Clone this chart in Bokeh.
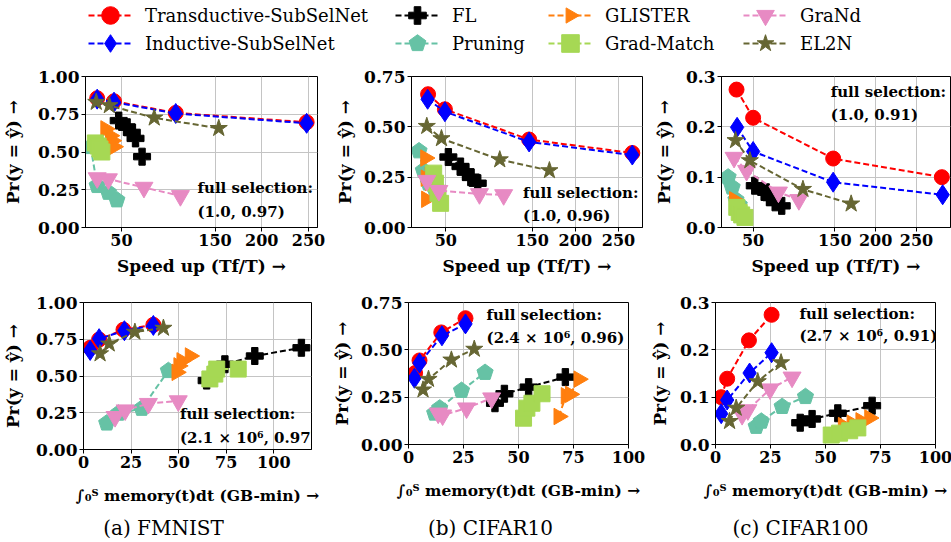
import math
from bokeh.plotting import figure
from bokeh.layouts import column, row
from bokeh.models import Range1d, FixedTicker, PrintfTickFormatter, Label, Legend, LegendItem
from bokeh.embed import file_html
from bokeh.resources import INLINE

METHODS = ["Transductive-SubSelNet", "Inductive-SubSelNet", "FL", "Pruning",
           "GLISTER", "Grad-Match", "GraNd", "EL2N"]

# ---------------- FMNIST : speed-up vs accuracy ----------------
FMNIST_SPEEDUP_X = {
    "Transductive-SubSelNet": [24, 42, 108, 248],
    "Inductive-SubSelNet": [24, 42, 108, 248],
    "FL": [47, 56, 61, 65, 72],
    "Pruning": [17, 24, 36, 45],
    "GLISTER": [33, 38, 40, 42],
    "Grad-Match": [22, 25, 27, 29],
    "GraNd": [24, 36, 74, 113],
    "EL2N": [23, 37, 85, 154],
}
FMNIST_SPEEDUP_Y = {
    "Transductive-SubSelNet": [0.856, 0.836, 0.759, 0.697],
    "Inductive-SubSelNet": [0.85, 0.83, 0.755, 0.69],
    "FL": [0.708, 0.664, 0.63, 0.59, 0.469],
    "Pruning": [0.535, 0.277, 0.232, 0.182],
    "GLISTER": [0.653, 0.608, 0.575, 0.535],
    "Grad-Match": [0.56, 0.54, 0.52, 0.50],
    "GraNd": [0.328, 0.321, 0.265, 0.21],
    "EL2N": [0.83, 0.808, 0.726, 0.657],
}
# ---------------- CIFAR10 : speed-up vs accuracy ----------------
CIFAR10_SPEEDUP_X = {
    "Transductive-SubSelNet": [29.5, 49, 146.5, 266],
    "Inductive-SubSelNet": [29, 49, 146.5, 266],
    "FL": [53, 67, 73, 79, 87],
    "Pruning": [19, 24, 30, 38],
    "GLISTER": [26.5, 27, 27.5],
    "Grad-Match": [36, 38, 41, 44],
    "GraNd": [28, 42, 89, 117],
    "EL2N": [28, 45, 112.5, 170],
}
CIFAR10_SPEEDUP_Y = {
    "Transductive-SubSelNet": [0.662, 0.587, 0.437, 0.37],
    "Inductive-SubSelNet": [0.637, 0.575, 0.425, 0.36],
    "FL": [0.35, 0.303, 0.275, 0.25, 0.22],
    "Pruning": [0.38, 0.283, 0.22, 0.18],
    "GLISTER": [0.345, 0.245, 0.14],
    "Grad-Match": [0.27, 0.22, 0.17, 0.12],
    "GraNd": [0.233, 0.183, 0.167, 0.162],
    "EL2N": [0.503, 0.442, 0.337, 0.283],
}
# ---------------- CIFAR100 : speed-up vs accuracy ----------------
CIFAR100_SPEEDUP_X = {
    "Transductive-SubSelNet": [29.7, 50, 148, 281],
    "Inductive-SubSelNet": [30.4, 50, 148, 282],
    "FL": [52, 66, 70, 77, 85],
    "Pruning": [19.4, 24.3, 29, 33],
    "GLISTER": [27, 30, 33],
    "Grad-Match": [30, 33, 36, 40],
    "GraNd": [26.7, 42, 81, 106],
    "EL2N": [28.5, 46, 111, 170],
}
CIFAR100_SPEEDUP_Y = {
    "Transductive-SubSelNet": [0.274, 0.218, 0.137, 0.1],
    "Inductive-SubSelNet": [0.199, 0.151, 0.09, 0.065],
    "FL": [0.083, 0.07, 0.06, 0.05, 0.043],
    "Pruning": [0.1, 0.08, 0.055, 0.045],
    "GLISTER": [0.055, 0.045, 0.035],
    "Grad-Match": [0.04, 0.03, 0.025, 0.02],
    "GraNd": [0.139, 0.113, 0.07, 0.055],
    "EL2N": [0.173, 0.133, 0.076, 0.047],
}
# ---------------- FMNIST : memory vs accuracy ----------------
FMNIST_MEMORY_X = {
    "Transductive-SubSelNet": [3.5, 8.2, 21, 36.7],
    "Inductive-SubSelNet": [3.5, 8.2, 21.5, 36.7],
    "FL": [64.7, 74.3, 90, 114.5],
    "Pruning": [12.2, 18.4, 30.6, 44.6],
    "GLISTER": [49, 50, 51.6, 56],
    "Grad-Match": [66.4, 69, 70, 81.3],
    "GraNd": [16.6, 21.9, 34.1, 49.8],
    "EL2N": [8.7, 13.5, 27, 42],
}
FMNIST_MEMORY_Y = {
    "Transductive-SubSelNet": [0.692, 0.748, 0.815, 0.848],
    "Inductive-SubSelNet": [0.674, 0.754, 0.808, 0.844],
    "FL": [0.469, 0.58, 0.636, 0.692],
    "Pruning": [0.179, 0.246, 0.279, 0.536],
    "GLISTER": [0.525, 0.569, 0.603, 0.636],
    "Grad-Match": [0.48, 0.513, 0.547, 0.547],
    "GraNd": [0.223, 0.268, 0.312, 0.33],
    "EL2N": [0.652, 0.719, 0.799, 0.826],
}
# ---------------- CIFAR10 : memory vs accuracy ----------------
CIFAR10_MEMORY_X = {
    "Transductive-SubSelNet": [3, 5, 14.9, 25.9],
    "Inductive-SubSelNet": [2.7, 5, 15.2, 25.9],
    "FL": [39.3, 43.6, 54.6, 71.3],
    "Pruning": [11.9, 14.2, 24.1, 34.8],
    "GLISTER": [68.3, 71.6, 73.5, 77.4],
    "Grad-Match": [52.3, 53.8, 56.1, 60.7],
    "GraNd": [13.5, 15.5, 26.4, 37.8],
    "EL2N": [6.6, 9.1, 19.5, 29.9],
}
CIFAR10_MEMORY_Y = {
    "Transductive-SubSelNet": [0.377, 0.444, 0.592, 0.667],
    "Inductive-SubSelNet": [0.35, 0.43, 0.574, 0.637],
    "FL": [0.218, 0.268, 0.303, 0.356],
    "Pruning": [0.165, 0.192, 0.285, 0.38],
    "GLISTER": [0.148, 0.257, 0.265, 0.345],
    "Grad-Match": [0.139, 0.192, 0.218, 0.268],
    "GraNd": [0.165, 0.155, 0.192, 0.245],
    "EL2N": [0.289, 0.345, 0.447, 0.504],
}
# ---------------- CIFAR100 : memory vs accuracy ----------------
CIFAR100_MEMORY_X = {
    "Transductive-SubSelNet": [2.6, 5.3, 15.2, 25.5],
    "Inductive-SubSelNet": [2.6, 5.3, 15.5, 25.5],
    "FL": [38.5, 43.9, 55.6, 71.2],
    "Pruning": [18.5, 20.8, 30.3, 40.9],
    "GLISTER": [58, 62, 66, 70],
    "Grad-Match": [52.6, 56.4, 61, 64.7],
    "GraNd": [12.1, 14.7, 24.8, 34.8],
    "EL2N": [6.4, 9.4, 19.2, 29.8],
}
CIFAR100_MEMORY_Y = {
    "Transductive-SubSelNet": [0.1, 0.139, 0.22, 0.274],
    "Inductive-SubSelNet": [0.065, 0.094, 0.151, 0.194],
    "FL": [0.046, 0.054, 0.066, 0.082],
    "Pruning": [0.038, 0.049, 0.08, 0.101],
    "GLISTER": [0.04, 0.045, 0.05, 0.056],
    "Grad-Match": [0.02, 0.024, 0.029, 0.035],
    "GraNd": [0.063, 0.073, 0.117, 0.142],
    "EL2N": [0.049, 0.077, 0.133, 0.173],
}

SPEEDUP_TICKS = [50, 150, 200, 250]
MEMORY_TICKS = [0, 25, 50, 75, 100]
ACC_TICKS_FMNIST = [0, 0.25, 0.5, 0.75, 1.0]
ACC_TICKS_CIFAR10 = [0, 0.25, 0.5, 0.75]
ACC_TICKS_CIFAR100 = [0, 0.1, 0.2, 0.3]

FULL_SPEEDUP = ["(1.0, 0.97)", "(1.0, 0.96)", "(1.0, 0.91)"]
FULL_MEMORY = ["(2.1 × 10⁶, 0.97)", "(2.4 × 10⁶, 0.96)", "(2.7 × 10⁶, 0.91)"]
CAPTIONS = ["(a) FMNIST", "(b) CIFAR10", "(c) CIFAR100"]

XLABEL_SPEED = "Speed up (Tf/T) →"
XLABEL_MEM = "∫₀ᵀ memory(t)dt (GB-min) →"
YLABEL = "Pr(y = ŷ) →"

FONT = "DejaVu Serif"

STYLE = {
    "Transductive-SubSelNet": dict(color="#ff0000", marker="circle", size=15),
    "Inductive-SubSelNet": dict(color="#0000ff", marker="diamond", size=20),
    "FL": dict(color="#000000", marker="plus", size=17),
    "Pruning": dict(color="#66c2a5", marker="ngon", n=5, size=17, angle=0.0),
    "GLISTER": dict(color="#ff7f0e", marker="ngon", n=3, size=19, angle=-math.pi / 2),
    "Grad-Match": dict(color="#a6d854", marker="square", size=16),
    "GraNd": dict(color="#e78ac3", marker="inverted_triangle", size=18),
    "EL2N": dict(color="#666633", marker="star", size=18),
}


def draw_marker(p, x, y, m):
    st = STYLE[m]
    if st["marker"] == "ngon" and hasattr(p, "ngon"):
        return p.ngon(x=x, y=y, radius=st["size"] / 2, radius_units="screen", n=st["n"],
                      angle=st["angle"], fill_color=st["color"], line_color=st["color"])
    if st["marker"] == "ngon":
        mk = "hex" if st["n"] == 5 else "triangle"
        return p.scatter(x=x, y=y, marker=mk, size=st["size"], angle=-math.pi / 2 if st["n"] == 3 else 0,
                         fill_color=st["color"], line_color=st["color"])
    return p.scatter(x=x, y=y, marker=st["marker"], size=st["size"],
                     fill_color=st["color"], line_color=st["color"])


def panel(xs, ys, xr, yr, xticks, yticks, yfmt, xlabel, xlabel_size,
          fw, fh, bl, br, bt, bb, ystand, xstand, notes, note_x, note_ys):
    p = figure(frame_width=fw, frame_height=fh, x_range=Range1d(*xr), y_range=Range1d(*yr),
               min_border_left=bl, min_border_right=br, min_border_top=bt, min_border_bottom=bb,
               output_backend="svg", toolbar_location=None, title=None,
               background_fill_color="white", border_fill_color="white")
    p.outline_line_color = "black"
    p.outline_line_width = 1
    xt = FixedTicker(ticks=xticks)
    yt = FixedTicker(ticks=yticks)
    p.xaxis.ticker = xt
    p.xgrid.ticker = xt
    p.yaxis.ticker = yt
    p.ygrid.ticker = yt
    p.yaxis.formatter = PrintfTickFormatter(format=yfmt)
    p.xaxis.formatter = PrintfTickFormatter(format="%d")
    p.axis.major_tick_in = 0
    p.axis.major_tick_out = 4
    p.axis.minor_tick_in = 0
    p.axis.minor_tick_out = 0
    p.axis.axis_line_color = "black"
    p.axis.major_tick_line_color = "black"
    p.axis.major_label_text_font = FONT
    p.axis.major_label_text_font_style = "bold"
    p.axis.major_label_text_color = "black"
    p.axis.major_label_standoff = 2
    p.xaxis.major_label_text_font_size = "16px"
    p.yaxis.major_label_text_font_size = "17px"
    p.axis.axis_label_text_font = FONT
    p.axis.axis_label_text_font_style = "bold"
    p.axis.axis_label_text_color = "black"
    p.yaxis.axis_label = YLABEL
    p.yaxis.axis_label_text_font_size = "17px"
    p.yaxis.axis_label_standoff = ystand
    p.xaxis.axis_label = xlabel
    p.xaxis.axis_label_text_font_size = xlabel_size
    p.xaxis.axis_label_standoff = xstand
    p.grid.grid_line_color = "#c4c4c4"
    p.grid.grid_line_width = 1
    for m in METHODS:
        st = STYLE[m]
        p.line(xs[m], ys[m], line_color=st["color"], line_width=2, line_dash="6 3")
        draw_marker(p, xs[m], ys[m], m)
    for text, yy in zip(notes, note_ys):
        p.add_layout(Label(x=note_x, y=yy, text=text, text_font=FONT, text_font_style="bold",
                           text_font_size="15px", text_baseline="middle", text_align="left",
                           text_color="black"))
    return p


# top row: speed-up
ta = panel(FMNIST_SPEEDUP_X, FMNIST_SPEEDUP_Y, (11.5, 259.6), (0, 1.0), SPEEDUP_TICKS,
           ACC_TICKS_FMNIST, "%.2f", XLABEL_SPEED, "17px", 232, 151, 85, 8, 20, 66, 12, 7,
           ["full selection:", FULL_SPEEDUP[0]], 131.3, [0.259, 0.10])
tb = panel(CIFAR10_SPEEDUP_X, CIFAR10_SPEEDUP_Y, (10.3, 277.8), (0, 0.75), SPEEDUP_TICKS,
           ACC_TICKS_CIFAR10, "%.2f", XLABEL_SPEED, "17px", 231, 151, 86, 8, 20, 66, 6, 7,
           ["full selection:", FULL_SPEEDUP[1]], 139.5, [0.172, 0.0585])
tc = panel(CIFAR100_SPEEDUP_X, CIFAR100_SPEEDUP_Y, (11.3, 291.6), (0, 0.3), SPEEDUP_TICKS,
           ACC_TICKS_CIFAR100, "%.1f", XLABEL_SPEED, "17px", 229, 151, 67, 3, 20, 66, 9, 7,
           ["full selection:", FULL_SPEEDUP[2]], 145, [0.269, 0.224])
# bottom row: memory
ba = panel(FMNIST_MEMORY_X, FMNIST_MEMORY_Y, (0, 119.8), (0, 1.0), MEMORY_TICKS,
           ACC_TICKS_FMNIST, "%.2f", XLABEL_MEM, "15.5px", 228, 147, 82, 12, 5, 64, 10, 15,
           ["full selection:", FULL_MEMORY[0]], 50.7, [0.239, 0.079])
bb_ = panel(CIFAR10_MEMORY_X, CIFAR10_MEMORY_Y, (0, 100), (0, 0.75), MEMORY_TICKS,
            ACC_TICKS_CIFAR10, "%.2f", XLABEL_MEM, "15.5px", 220, 142, 85, 18, 9, 65, 6, 15,
            ["full selection:", FULL_MEMORY[1]], 35.5, [0.685, 0.565])
bc = panel(CIFAR100_MEMORY_X, CIFAR100_MEMORY_Y, (0, 100), (0, 0.3), MEMORY_TICKS,
           ACC_TICKS_CIFAR100, "%.1f", XLABEL_MEM, "15.5px", 220, 142, 68, 17, 9, 65, 7, 15,
           ["full selection:", FULL_MEMORY[2]], 38.2, [0.276, 0.23])

# legend strip (legend keys only; no data drawn)
NAN = [float("nan")]
leg = figure(width=950, height=56, x_range=Range1d(0, 1), y_range=Range1d(0, 1),
             x_axis_location=None, y_axis_location=None, min_border=0, title=None,
             output_backend="svg", toolbar_location=None)
leg.grid.visible = False
leg.outline_line_color = None
LEGEND_SLOTS = [(88, 19), (88, -9), (395, 19), (395, -9),
                (548, 19), (548, -9), (743, 19), (743, -9)]
for m, loc in zip(METHODS, LEGEND_SLOTS):
    st = STYLE[m]
    rl = leg.line(x=NAN, y=NAN, line_color=st["color"], line_width=2, line_dash="6 3")
    rm = draw_marker(leg, NAN, NAN, m)
    lg = Legend(items=[LegendItem(label=m, renderers=[rl, rm])], location=loc,
                orientation="vertical", glyph_width=44, glyph_height=44, label_standoff=13,
                label_height=44, padding=0, margin=0, spacing=0, border_line_color=None,
                background_fill_alpha=0, label_text_font=FONT, label_text_font_size="18px",
                label_text_color="black")
    leg.add_layout(lg, "center")

# caption strip
cap = figure(width=950, height=30, x_range=Range1d(0, 950), y_range=Range1d(0, 30),
             x_axis_location=None, y_axis_location=None, min_border=0, title=None,
             output_backend="svg", toolbar_location=None)
cap.grid.visible = False
cap.outline_line_color = None
for text, cx in zip(CAPTIONS, [163, 490, 800]):
    cap.add_layout(Label(x=cx, y=12, text=text, text_align="center", text_baseline="middle",
                         text_font=FONT, text_font_size="20px", text_color="black"))

layout = column(leg, row(ta, tb, tc), row(ba, bb_, bc), cap)
open("out.html", "w").write(file_html(layout, INLINE))
